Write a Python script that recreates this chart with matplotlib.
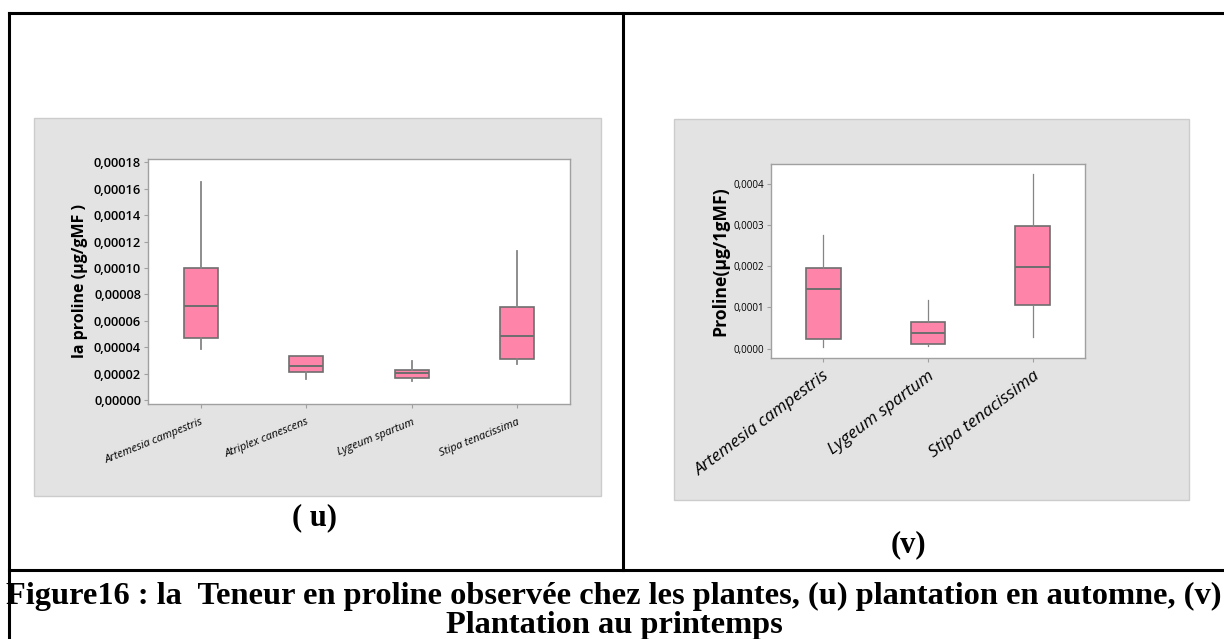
import matplotlib
matplotlib.use('Agg')
import matplotlib.pyplot as plt
from matplotlib.patches import Rectangle
from matplotlib.lines import Line2D
from matplotlib.ticker import FuncFormatter

W, H = 1224, 639

# (u) plantation en automne
left_species = ['Artemesia campestris', 'Atriplex canescens', 'Lygeum spartum', 'Stipa tenacissima']
left_whislo = [0.0000386, 0.0000157, 0.0000141, 0.0000270]
left_q1 = [0.0000470, 0.0000215, 0.0000164, 0.0000313]
left_med = [0.0000714, 0.0000255, 0.0000204, 0.0000485]
left_q3 = [0.0001000, 0.0000331, 0.0000227, 0.0000702]
left_whishi = [0.0001654, 0.0000331, 0.0000295, 0.0001131]
left_yticks = [0.0, 0.00002, 0.00004, 0.00006, 0.00008, 0.00010, 0.00012, 0.00014, 0.00016, 0.00018]

# (v) plantation au printemps
right_species = ['Artemesia campestris', 'Lygeum spartum', 'Stipa tenacissima']
right_whislo = [0.0000040, 0.0000057, 0.0000283]
right_q1 = [0.0000234, 0.0000113, 0.0001059]
right_med = [0.0001438, 0.0000372, 0.0001972]
right_q3 = [0.0001947, 0.0000646, 0.0002974]
right_whishi = [0.0002764, 0.0001172, 0.0004234]
right_yticks = [0.0, 0.0001, 0.0002, 0.0003, 0.0004]

PINK = '#FF84AA'
EDGE = '#6e6e6e'
GRAY_BG = '#E3E3E3'


def fx(x):
    return x / W


def fy(y):
    return 1 - y / H


def make_stats(names, lo, q1, med, q3, hi):
    stats = []
    for i in range(len(names)):
        stats.append({'label': names[i], 'whislo': lo[i], 'q1': q1[i], 'med': med[i],
                      'q3': q3[i], 'whishi': hi[i], 'fliers': []})
    return stats


def boxpanel(ax, names, lo, q1, med, q3, hi, width, whisker_lw):
    stats = make_stats(names, lo, q1, med, q3, hi)
    ax.bxp(stats, widths=width, showcaps=False, showfliers=False, patch_artist=True,
           boxprops=dict(facecolor=PINK, edgecolor=EDGE, linewidth=1.2),
           medianprops=dict(color=EDGE, linewidth=1.4),
           whiskerprops=dict(color='#858585', linewidth=whisker_lw))
    for s in ax.spines.values():
        s.set_color('#a0a0a0')
        s.set_linewidth(1.0)
    ax.tick_params(axis='both', length=3, color='#a0a0a0', pad=2)


fig = plt.figure(figsize=(W / 100, H / 100), dpi=100)

# gray backgrounds of the two minitab panels
fig.patches.append(Rectangle((fx(34), fy(496)), fx(601 - 34), (496 - 118) / H,
                             transform=fig.transFigure, facecolor=GRAY_BG,
                             edgecolor='#cccccc', linewidth=1, zorder=-5))
fig.patches.append(Rectangle((fx(674), fy(500)), fx(1189 - 674), (500 - 119) / H,
                             transform=fig.transFigure, facecolor=GRAY_BG,
                             edgecolor='#cccccc', linewidth=1, zorder=-5))

# table frame
for (x0, y0, x1, y1) in [(9, 13, 1224, 13), (9, 13, 9, 639), (623, 13, 623, 570), (9, 570, 1224, 570)]:
    fig.add_artist(Line2D([fx(x0), fx(x1)], [fy(y0), fy(y1)], transform=fig.transFigure,
                          color='black', linewidth=2.2))

# left chart
ax1 = fig.add_axes([fx(148), fy(404), fx(570 - 148), (404 - 159) / H], zorder=2)
boxpanel(ax1, left_species, left_whislo, left_q1, left_med, left_q3, left_whishi, 0.32, 1.3)
ax1.set_xlim(0.5, 4.5)
ax1.set_ylim(-0.000003, 0.0001825)
ax1.set_yticks(left_yticks)
ax1.yaxis.set_major_formatter(FuncFormatter(lambda v, p: f'{v:.5f}'.replace('.', ',')))
for lab in ax1.get_yticklabels():
    lab.set_fontsize(9.3)
    lab.set_fontfamily('Open Sans')
    lab.set_fontweight('semibold')
ax1.set_xticks([1, 2, 3, 4])
ax1.set_xticklabels(left_species, rotation=22, ha='right', rotation_mode='anchor',
                    fontsize=8, style='italic', family='Open Sans')
ax1.tick_params(axis='x', pad=6)
ax1.set_ylabel('la proline (µg/gMF )', fontsize=11.5, fontweight='bold', family='Open Sans',
               labelpad=4)

# right chart
ax2 = fig.add_axes([fx(771), fy(358), fx(1085 - 771), (358 - 164) / H], zorder=2)
boxpanel(ax2, right_species, right_whislo, right_q1, right_med, right_q3, right_whishi, 0.33, 0.9)
ax2.set_xlim(0.5, 3.5)
ax2.set_ylim(-0.0000226, 0.0004477)
ax2.set_yticks(right_yticks)
ax2.yaxis.set_major_formatter(FuncFormatter(lambda v, p: f'{v:.4f}'.replace('.', ',')))
for lab in ax2.get_yticklabels():
    lab.set_fontsize(7)
    lab.set_fontfamily('Open Sans')
ax2.set_xticks([1, 2, 3])
ax2.set_xticklabels(right_species, rotation=37, ha='right', rotation_mode='anchor',
                    fontsize=12.4, style='italic', family='Open Sans')
ax2.tick_params(axis='x', pad=4)
ax2.set_ylabel('Proline(µg/1gMF)', fontsize=12.7, fontweight='bold', family='Open Sans',
               labelpad=3)

# panel letters and caption
fig.text(fx(315), fy(518), '( u)', ha='center', va='center', fontsize=22,
         fontweight='bold', family='Liberation Serif')
fig.text(fx(908), fy(545), '(v)', ha='center', va='center', fontsize=22,
         fontweight='bold', family='Liberation Serif')
fig.text(fx(614), fy(596), 'Figure16 : la  Teneur en proline observée chez les plantes, '
         '(u) plantation en automne, (v)', ha='center', va='center', fontsize=23.3,
         fontweight='bold', family='Liberation Serif')
fig.text(fx(614), fy(625), 'Plantation au printemps', ha='center', va='center',
         fontsize=23.3, fontweight='bold', family='Liberation Serif')

fig.savefig('out.png', dpi=100, facecolor='white')
